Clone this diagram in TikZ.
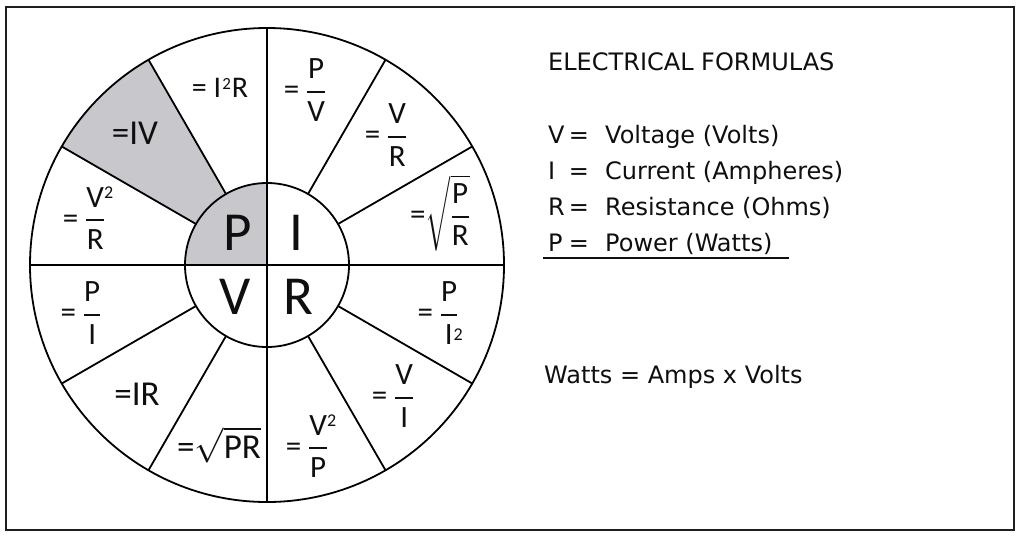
\RequirePackage{fix-cm}
\documentclass[tikz,border=0pt]{standalone}
\usepackage{fontspec}
\usepackage{amsmath}
\setmainfont{DejaVu Sans}
\newfontfamily\wheelfont{Carlito}
\usetikzlibrary{calc}
\definecolor{shadegray}{RGB}{200,200,204}
\definecolor{framegray}{RGB}{30,30,30}
\definecolor{inkc}{RGB}{15,15,15}
\newcommand\fr[2]{\ensuremath{\genfrac{}{}{2pt}{0}{\text{#1}}{\text{#2}}}}
\newcommand\sqd[1]{\rlap{\raisebox{#1}{\fontsize{18}{18}\selectfont 2}}}
\begin{document}
\begin{tikzpicture}[x=1pt,y=-1pt,
  wl/.style={font=\wheelfont\fontsize{31}{35}\selectfont, inner sep=0pt, text=inkc},
  wlb/.style={font=\wheelfont\fontsize{35}{38}\selectfont, inner sep=0pt, text=inkc},
  wls/.style={font=\wheelfont\fontsize{30}{32}\selectfont, inner sep=0pt, text=inkc},
  big/.style={font=\wheelfont\fontsize{55}{58}\selectfont, inner sep=0pt, text=inkc},
  rt/.style={font=\fontsize{24}{28}\selectfont, inner sep=0pt, anchor=base west, text=inkc},
  wline/.style={line width=1.8pt, black}]
\useasboundingbox (0,0) rectangle (1024,539);
\fill[white] (0,0) rectangle (1024,539);
\draw[framegray, line width=2.2pt] (6,7) rectangle (1014,530);

\coordinate (c) at (267,265);
% shaded regions
\fill[shadegray] ($(c)+(-120:82)$) -- ($(c)+(-120:237)$) arc[start angle=-120, end angle=-150, radius=237]
  -- ($(c)+(-150:82)$) arc[start angle=-150, end angle=-120, radius=82] -- cycle;
\fill[shadegray] (c) -- ($(c)+(-90:82)$) arc[start angle=-90, end angle=-180, radius=82] -- cycle;
% wheel
\draw[wline] (c) circle[radius=237];
\draw[wline] (c) circle[radius=82];
\draw[wline] ($(c)+(0,-237)$) -- ($(c)+(0,237)$);
\draw[wline] ($(c)+(-237,0)$) -- ($(c)+(237,0)$);
\foreach \a in {30,60,120,150,210,240,300,330}
  \draw[wline] ($(c)+(-\a:82)$) -- ($(c)+(-\a:237)$);

% inner letters
\node[big] (P) at (238,233) {P};
\node[big] (I) at (296,233) {I};
\node[big] (V) at (235,297) {V};
\node[big] (R) at (298,297) {R};

% sector formulas
\node[wls] (f105) at (220,88) {=\hspace{7pt}I\hspace{1pt}\raisebox{8pt}{\fontsize{17}{17}\selectfont 2}\hspace{1pt}R};
\node[wl] (f75) at (305,90) {= \fr{P}{V}};
\node[wl] (f45) at (386,135) {= \fr{V}{R}};
\node[wl] (f15) at (440,213) {=\ensuremath{\sqrt{\fr{P}{R}}}};
\node[wlb] (f135) at (135,133) {=IV};
\node[wl] (f165) at (84,218) {= \ensuremath{\genfrac{}{}{2pt}{0}{\text{V\sqd{9pt}}}{\text{R}}}};
\node[wl] (f195) at (81,313) {= \fr{P}{I}};
\node[wlb] (f225) at (137,394) {=IR};
\node[wlb] (f255) at (219,445) {=\ensuremath{\sqrt{\text{PR}}}};
\node[wl] (f285) at (307,446) {= \ensuremath{\genfrac{}{}{2pt}{0}{\text{V\sqd{9pt}}}{\text{P}}}};
\node[wl] (f315) at (393,396) {= \fr{V}{I}};
\node[wl] (f345) at (438,313) {= \ensuremath{\genfrac{}{}{2pt}{0}{\text{P}}{\text{I\hspace{1pt}\sqd{4pt}}}}};

% legend
\node[rt] (title) at (548,70) {ELECTRICAL FORMULAS};
\node[rt] (kV) at (548,143) {V};
\node[rt, anchor=base] (eV) at (579,143) {=};
\node[rt] (dV) at (605,143) {Voltage (Volts)};
\node[rt] (kI) at (548,179) {I};
\node[rt, anchor=base] (eI) at (579,179) {=};
\node[rt] (dI) at (605,179) {Current (Ampheres)};
\node[rt] (kR) at (548,215) {R};
\node[rt, anchor=base] (eR) at (579,215) {=};
\node[rt] (dR) at (605,215) {Resistance (Ohms)};
\node[rt] (kP) at (548,251) {P};
\node[rt, anchor=base] (eP) at (579,251) {=};
\node[rt] (dP) at (605,251) {Power (Watts)};
\coordinate (ulA) at (543,258);
\coordinate (ulB) at (789,258);
\draw[line width=1.5pt, inkc] (ulA) -- (ulB);
\node[rt] (watts) at (544,383) {Watts = Amps x Volts};
\end{tikzpicture}
\end{document}
